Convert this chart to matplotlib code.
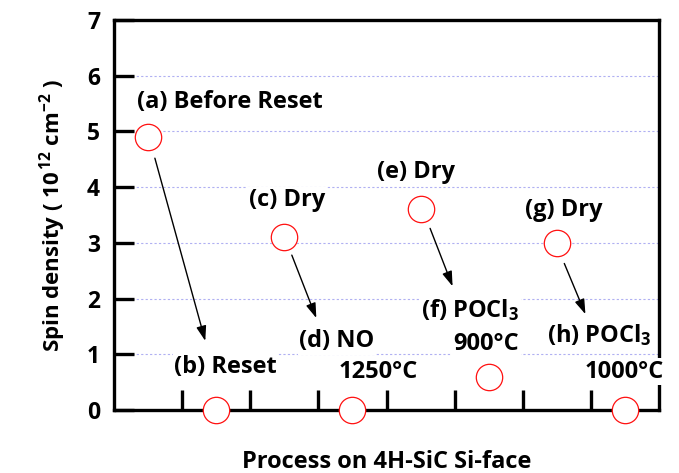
import matplotlib
matplotlib.use("Agg")
import matplotlib.pyplot as plt

plt.rcParams['font.family'] = ['Open Sans', 'DejaVu Sans']
plt.rcParams['font.weight'] = 'bold'
plt.rcParams['mathtext.fontset'] = 'custom'
plt.rcParams['mathtext.rm'] = 'Open Sans:bold'
plt.rcParams['mathtext.bf'] = 'Open Sans:bold'
plt.rcParams['mathtext.it'] = 'Open Sans:bold:italic'

# data
process_pos = [0.5, 1.5, 2.5, 3.5, 4.5, 5.5, 6.5, 7.5]
spin_density = [4.9, 0.0, 3.1, 0.0, 3.6, 0.6, 3.0, 0.0]
y_ticks = [0, 1, 2, 3, 4, 5, 6, 7]
x_ticks = [1, 2, 3, 4, 5, 6, 7]

# annotation layout: (text, x, y, ha)
labels = [
    ("(a) Before Reset", 0.34, 5.53, "left"),
    ("(b) Reset", 0.88, 0.78, "left"),
    ("(c) Dry", 1.98, 3.77, "left"),
    ("(d) NO", 2.72, 1.23, "left"),
    ("1250°C", 3.29, 0.68, "left"),
    ("(e) Dry", 3.86, 4.28, "left"),
    ("(f) POCl$_3$", 5.95, 1.80, "right"),
    ("900°C", 5.95, 1.19, "right"),
    ("(h) POCl$_3$", 6.35, 1.35, "left"),
    ("1000°C", 6.91, 0.69, "left"),
    ("(g) Dry", 6.03, 3.59, "left"),
]
arrows = [  # (start, end)
    ((0.60, 4.52), (1.34, 1.24)),
    ((2.61, 2.78), (2.97, 1.65)),
    ((4.64, 3.26), (4.97, 2.22)),
    ((6.61, 2.63), (6.92, 1.72)),
]

fig = plt.figure(figsize=(6.79, 4.73), dpi=100)
ax = fig.add_axes([114/679, 1-410/473, 545/679, 390/473])
ax.set_xlim(0, 8)
ax.set_ylim(0, 7)

ax.set_yticks(y_ticks)
ax.set_xticks(x_ticks)
ax.set_xticklabels([])
ax.tick_params(axis='both', direction='in', length=14.4, width=2.4, pad=10,
               labelsize=16.5)
for lab in ax.get_yticklabels():
    lab.set_fontweight('bold')
for sp in ax.spines.values():
    sp.set_linewidth(2.4)
ax.yaxis.grid(True, color='#b0b0f2', linestyle=(0, (2, 2)), linewidth=0.8)
ax.set_axisbelow(True)

ax.plot(process_pos, spin_density, linestyle='none', marker='o', markersize=19,
        markerfacecolor='white', markeredgecolor='#ff1010', markeredgewidth=0.9,
        clip_on=False, zorder=6)

for (txt, x, y, ha) in labels:
    ax.text(x, y, txt, ha=ha, va='center', fontsize=17, fontweight='bold',
            zorder=4, clip_on=False,
            bbox=dict(facecolor='white', edgecolor='none', pad=1))

for (s, e) in arrows:
    ax.annotate('', xy=e, xytext=s,
                arrowprops=dict(arrowstyle='-|>,head_length=0.9,head_width=0.3',
                                color='black', lw=1.0, shrinkA=0, shrinkB=0),
                zorder=5)

ax.set_xlabel('Process on 4H-SiC Si-face', fontsize=17, fontweight='bold',
              labelpad=19)
ax.set_ylabel('Spin density ( 10$^{\\,12}$ cm$^{-2}$ )', fontsize=16,
              fontweight='bold', labelpad=14)

fig.savefig('out.png', dpi=100)
